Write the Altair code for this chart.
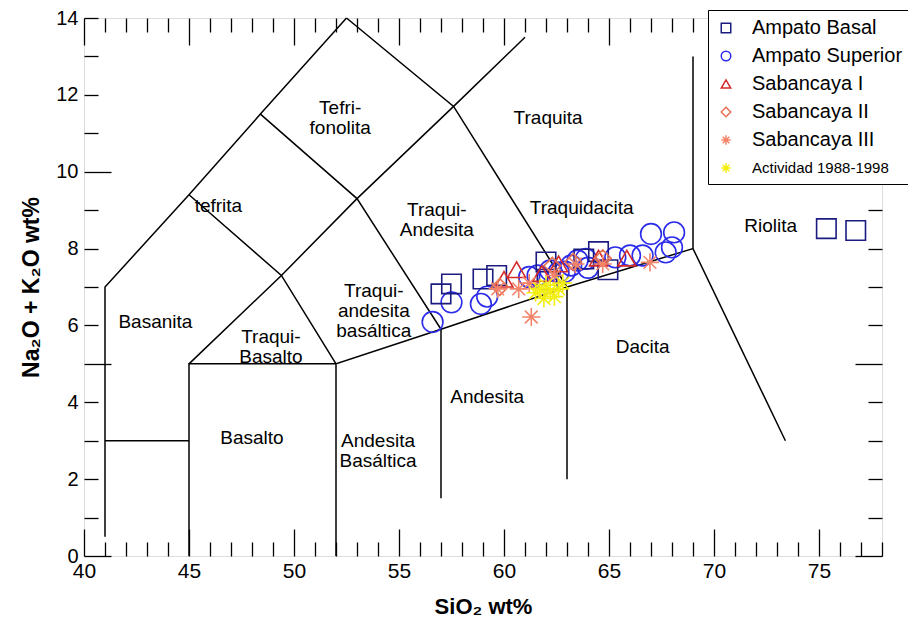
import altair as alt
import pandas as pd

FONT = "Liberation Sans"

# ---------------- classification field boundaries (SiO2, Na2O+K2O) ----------------
seg_x = [
    [41, 41, 45, 48.4, 52.5],
    [41, 45],
    [45, 45, 52],
    [52, 52, 57, 63, 69, 73.4],
    [45, 49.4, 53, 57.6, 61],
    [45, 49.4, 52],
    [48.4, 53, 57],
    [52.5, 57.6, 63],
    [57, 57],
    [63, 63],
    [69, 69],
]
seg_y = [
    [0.5, 7, 9.4, 11.5, 14],
    [3, 3],
    [0, 5, 5],
    [0, 5, 5.9, 7, 8, 3],
    [5, 7.3, 9.3, 11.7, 13.5],
    [9.4, 7.3, 5],
    [11.5, 9.3, 5.9],
    [14, 11.7, 7],
    [5.9, 1.5],
    [7, 2],
    [8, 13],
]

# ---------------- field names ----------------
field_names = ["Tefri-\nfonolita", "tefrita", "Traquita", "Traqui-\nAndesita", "Traquidacita",
               "Riolita", "Traqui-\nandesita\nbasáltica", "Basanita", "Traqui-\nBasalto",
               "Dacita", "Andesita", "Andesita\nBasáltica", "Basalto"]
field_x = [52.2, 46.4, 62.1, 56.8, 63.7, 72.7, 53.8, 43.4, 48.9, 66.6, 59.2, 54.0, 48.0]
field_y = [11.65, 9.1, 11.4, 9.0, 9.05, 8.6, 6.9, 6.1, 5.7, 5.45, 4.15, 3.0, 3.07]

# ---------------- samples ----------------
series = ["Ampato Basal", "Ampato Superior", "Sabancaya I", "Sabancaya II",
          "Sabancaya III", "Actividad 1988-1998"]
colors = ["#1c1c80", "#2b2bea", "#d42a2a", "#e8704e", "#f2846a", "#f2ee10"]

as_x = [56.6, 57.5, 58.9, 59.2, 61.2, 61.6, 62.2, 62.6, 62.9, 63.2, 63.5, 63.9, 64.0,
        65.3, 66.0, 66.6, 67.0, 68.1, 68.0, 67.7]
as_y = [6.09, 6.6, 6.56, 6.75, 7.26, 7.3, 7.43, 7.38, 7.4, 7.56, 7.69, 7.73, 7.5,
        7.77, 7.82, 7.82, 8.38, 8.42, 8.03, 7.9]
ab_x = [57.0, 57.5, 59.0, 59.65, 62.0, 62.05, 63.8, 64.5, 64.95, 75.35, 76.75]
ab_y = [6.82, 7.08, 7.21, 7.3, 7.65, 7.2, 7.73, 7.92, 7.45, 8.52, 8.47]
s1_x = [60.0, 60.6, 61.8, 62.6, 64.5, 65.85]
s1_y = [7.2, 7.45, 7.35, 7.6, 7.75, 7.75]
s2_x = [59.8, 62.3, 63.3, 64.7]
s2_y = [7.0, 7.55, 7.65, 7.75]
s3_x = [61.3, 60.7, 59.7, 63.4, 64.7, 66.95, 61.2, 62.4]
s3_y = [6.22, 6.95, 6.95, 7.6, 7.6, 7.64, 7.1, 7.3]
ac_x = [61.5, 61.9, 62.2, 62.6, 62.0, 62.8, 61.7, 62.4]
ac_y = [6.85, 6.7, 6.9, 6.95, 7.05, 7.1, 6.95, 6.75]

x_ticks = list(range(40, 79))
y_ticks = list(range(0, 15))

# ---------------- tables ----------------
rows = []
for s, (xs, ys) in enumerate(zip(seg_x, seg_y)):
    for i, (xv, yv) in enumerate(zip(xs, ys)):
        rows.append({"seg": s, "i": i, "x": xv, "y": yv})
lines_df = pd.DataFrame(rows)

names_df = pd.DataFrame({"name": field_names, "x": field_x, "y": field_y})

order = [("Ampato Superior", as_x, as_y), ("Ampato Basal", ab_x, ab_y),
         ("Sabancaya I", s1_x, s1_y), ("Sabancaya II", s2_x, s2_y),
         ("Sabancaya III", s3_x, s3_y), ("Actividad 1988-1998", ac_x, ac_y)]

asterisk = "M0,-1L0,1M-1,0L1,0M-0.7,-0.7L0.7,0.7M-0.7,0.7L0.7,-0.7"
shapes = ["square", "circle", "triangle-up", "diamond", asterisk, asterisk]
marker_size = {"Ampato Basal": 380, "Ampato Superior": 430, "Sabancaya I": 320,
               "Sabancaya II": 280, "Sabancaya III": 330, "Actividad 1988-1998": 330}

xscale = alt.Scale(domain=[40, 78], nice=False, zero=False)
yscale = alt.Scale(domain=[0, 14], nice=False, zero=False)

major_tick = {"expr": "datum.value % 5 === 0 ? -27 : -14"}

bottom_axis = alt.Axis(orient="bottom", values=x_ticks,
                       labelExpr="datum.value % 5 === 0 ? datum.label : ''",
                       tickSize=major_tick, labelPadding=31, domain=False, grid=False,
                       tickColor="black", tickWidth=1.3, labelFontSize=21, labelColor="black",
                       labelFont=FONT, labelFlush=False, labelOverlap=False,
                       titleFontSize=22, titleFont=FONT, titleFontWeight="bold",
                       titleColor="black", titlePadding=2)
left_axis = alt.Axis(orient="left", values=y_ticks,
                     labelExpr="datum.value % 2 === 0 ? datum.label : ''",
                     tickSize=major_tick,
                     labelPadding={"expr": "datum.value % 5 === 0 ? 33 : 20"},
                     domain=False, grid=False, tickColor="black", tickWidth=1.3,
                     labelFontSize=20, labelColor="black", labelFont=FONT, labelFlush=False,
                     labelOverlap=False, titleFontSize=23, titleFont=FONT,
                     titleFontWeight="bold", titleColor="black", titlePadding=12)
top_axis = alt.Axis(orient="top", values=x_ticks, tickSize=major_tick, labels=False,
                    domain=False, grid=False, tickColor="black", tickWidth=1.3, title=None)
right_axis = alt.Axis(orient="right", values=y_ticks, tickSize=major_tick, labels=False,
                      domain=False, grid=False, tickColor="black", tickWidth=1.3, title=None)

lines = alt.Chart(lines_df).mark_line(color="black", strokeWidth=1.5).encode(
    x=alt.X("x:Q", scale=xscale, axis=top_axis),
    y=alt.Y("y:Q", scale=yscale, axis=right_axis),
    detail="seg:N",
    order="i:Q",
)

names = alt.Chart(names_df).mark_text(font=FONT, fontSize=19, color="black",
                                      lineBreak="\n", align="center", baseline="middle",
                                      lineHeight=20).encode(
    x=alt.X("x:Q", scale=xscale, axis=None),
    y=alt.Y("y:Q", scale=yscale, axis=None),
    text="name:N",
)

legend = alt.Legend(title=None, orient="none", legendX=624, legendY=-8,
                    fillColor="white", strokeColor="black", padding=8,
                    labelFont=FONT,
                    labelFontSize={"expr": "datum.value === 'Actividad 1988-1998' ? 15 : 20"},
                    labelColor="black",
                    symbolSize=90, symbolStrokeWidth=1.5, rowPadding=8,
                    labelOffset=16, labelLimit=300)

color_scale = alt.Scale(domain=series, range=colors)
shape_scale = alt.Scale(domain=series, range=shapes)

point_layers = []
for k, (name, xs, ys) in enumerate(order):
    df = pd.DataFrame({"serie": name, "x": xs, "y": ys})
    if k == 0:
        xe = alt.X("x:Q", scale=xscale, axis=bottom_axis, title="SiO₂ wt%")
        ye = alt.Y("y:Q", scale=yscale, axis=left_axis, title="Na₂O + K₂O wt%")
    else:
        xe = alt.X("x:Q", scale=xscale, axis=None)
        ye = alt.Y("y:Q", scale=yscale, axis=None)
    point_layers.append(
        alt.Chart(df).mark_point(filled=False, strokeWidth=1.6, opacity=1,
                                 size=marker_size[name]).encode(
            x=xe, y=ye,
            color=alt.Color("serie:N", scale=color_scale, legend=legend),
            shape=alt.Shape("serie:N", scale=shape_scale, legend=legend),
        )
    )

chart = alt.layer(lines, names, *point_layers).properties(
    width=798, height=538,
    autosize=alt.AutoSizeParams(type="none"),
    padding={"left": 76, "top": 10, "right": 26, "bottom": 72},
    background="white",
).configure_view(stroke="black", strokeWidth=1.5).configure(font=FONT)

chart.save("out.html", embed_options={"renderer": "svg", "actions": False})
